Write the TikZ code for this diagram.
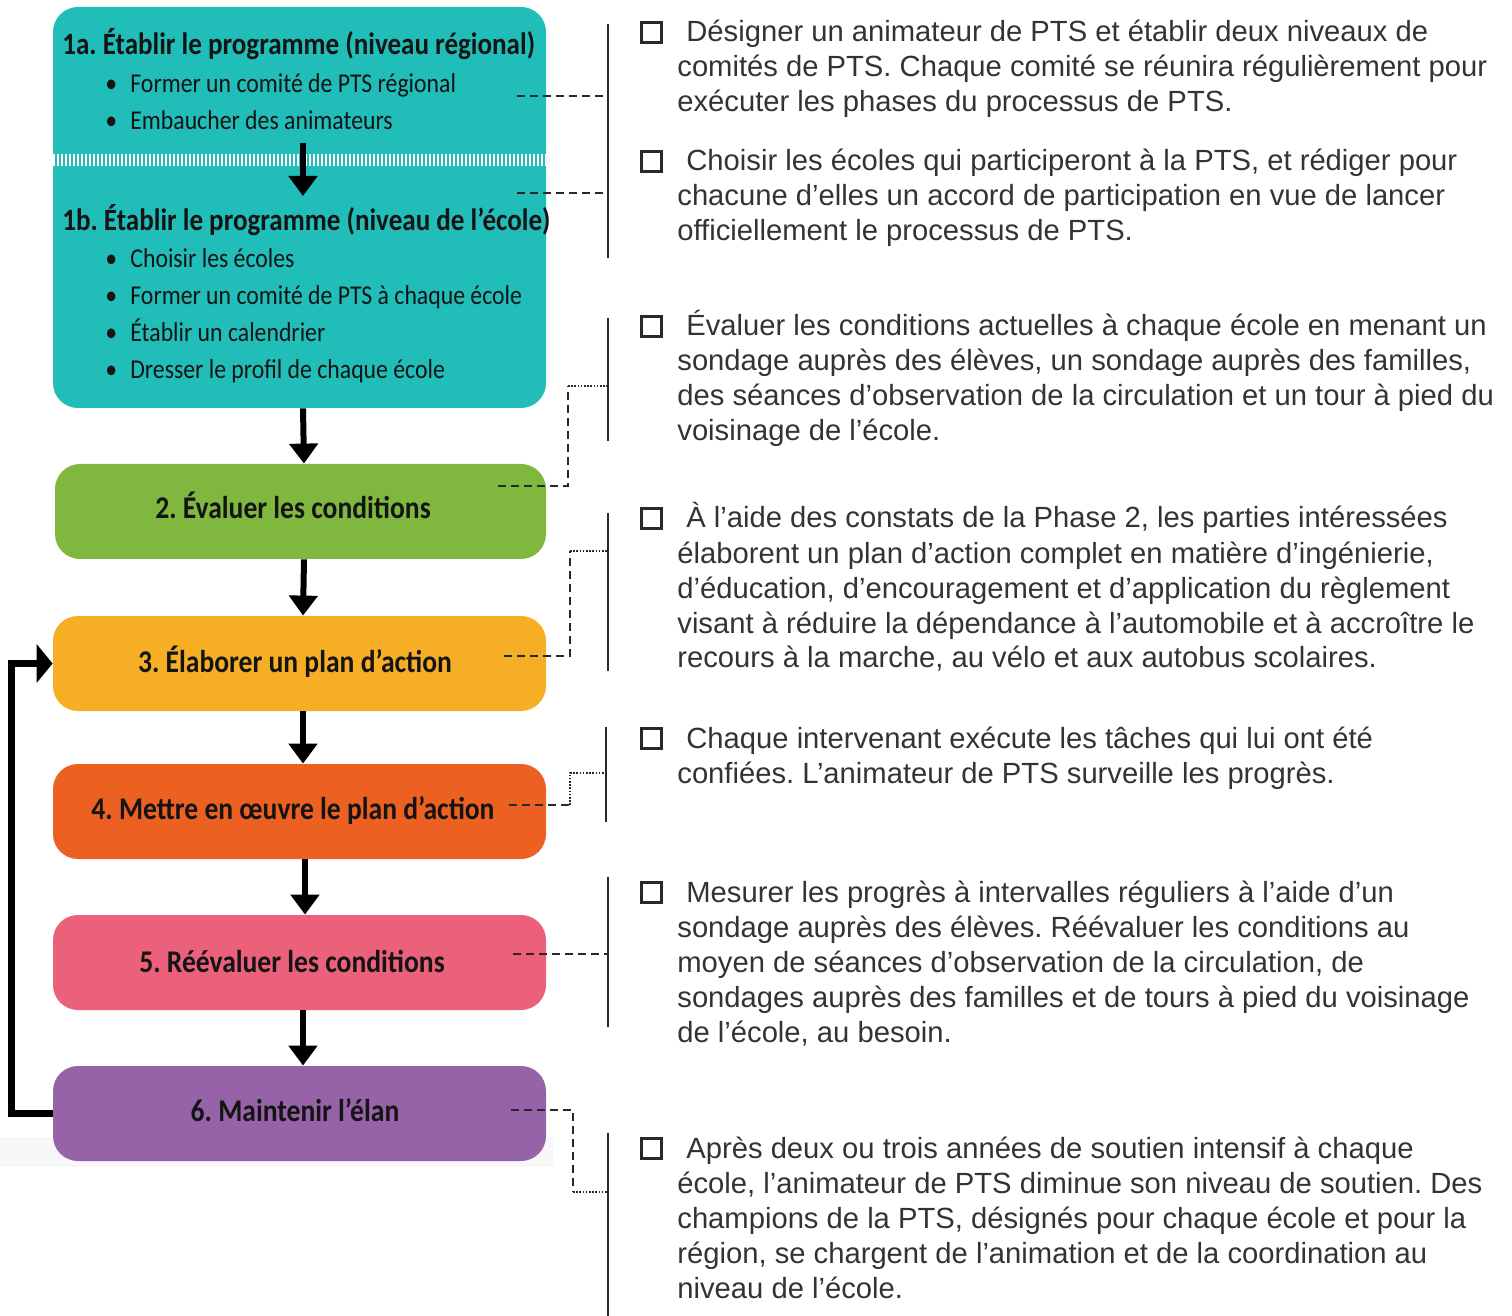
\documentclass[tikz,border=0pt]{standalone}
\usepackage{fontspec}
\setmainfont{Liberation Sans}
\newfontfamily\boxf[FakeStretch=0.873]{Carlito}
\usetikzlibrary{arrows.meta}
\definecolor{teal1}{RGB}{32,189,185}
\definecolor{green1}{RGB}{128,184,63}
\definecolor{yell1}{RGB}{246,175,37}
\definecolor{oran1}{RGB}{236,96,34}
\definecolor{pink1}{RGB}{235,96,122}
\definecolor{purp1}{RGB}{150,99,168}
\definecolor{txt}{RGB}{51,51,51}
\definecolor{lin}{RGB}{40,40,40}
\definecolor{boxtxt}{RGB}{20,20,20}
\frenchspacing
\begin{document}
\begin{tikzpicture}[x=0.5pt,y=-0.5pt,
  stage/.style={draw=none, rounded corners=12.5pt, minimum width=246.5pt, minimum height=47.5pt, inner sep=0pt},
  rt/.style={anchor=base west, inner sep=0pt, font=\fontsize{14.6}{17.5}\selectfont, text=txt},
  bt/.style={anchor=base west, inner sep=0pt, text=boxtxt, font=\boxf\bfseries\fontsize{15.5}{18}\selectfont},
  st/.style={anchor=base, inner sep=0pt, text=boxtxt, font=\boxf\bfseries\fontsize{15.8}{18}\selectfont},
  bl/.style={anchor=base west, inner sep=0pt, text=boxtxt, font=\boxf\fontsize{13.6}{18}\selectfont},
  dsh/.style={draw=lin, line width=1.2pt, dash pattern=on 4pt off 2.5pt},
  dtt/.style={draw=lin, line width=1.2pt, dash pattern=on 0.8pt off 0.8pt},
  vln/.style={draw=lin, line width=1pt},
  cbox/.style={draw=lin, line width=1.2pt, minimum size=10pt, inner sep=0pt},
  darr/.style={line width=3pt, -{Triangle[width=14pt,length=10pt]}},
  farr/.style={line width=3.25pt, -{Triangle[width=19pt,length=8pt]}}
]
\useasboundingbox (0,0) rectangle (1512,1316);
\fill[gray!6] (0,1137) rectangle (553,1167);

% stages
\node[stage, fill=teal1, minimum height=200.5pt] (b1) at (299.5,207.5) {};
\node[stage, fill=green1, minimum width=245.5pt] (b2) at (300.5,511.5) {};
\node[stage, fill=yell1] (b3) at (299.5,663.5) {};
\node[stage, fill=oran1] (b4) at (299.5,811.5) {};
\node[stage, fill=pink1] (b5) at (299.5,962.5) {};
\node[stage, fill=purp1] (b6) at (299.5,1113.5) {};

% separator in box 1
\coordinate (sepL) at (53,160);
\coordinate (sepR) at (546,160);
\draw[white, line width=6pt, dash pattern=on 0.9pt off 1.1pt] (sepL) -- (sepR);

% box 1 texts
\node[bt] (t1a) at (62,55) {1a. Établir le programme (niveau régional)};
\node[bl] (t1a1) at (105,93) {\makebox[12.5pt][l]{•}Former un comité de PTS régional};
\node[bl] (t1a2) at (105,130) {\makebox[12.5pt][l]{•}Embaucher des animateurs};
\node[bt] (t1b) at (62,231) {1b. Établir le programme (niveau de l’école)};
\node[bl] (t1b1) at (105,268) {\makebox[12.5pt][l]{•}Choisir les écoles};
\node[bl] (t1b2) at (105,305) {\makebox[12.5pt][l]{•}Former un comité de PTS à chaque école};
\node[bl] (t1b3) at (105,342) {\makebox[12.5pt][l]{•}Établir un calendrier};
\node[bl] (t1b4) at (105,379) {\makebox[12.5pt][l]{•}Dresser le profil de chaque école};

% stage titles
\node[st] (t2) at (293,518) {2. Évaluer les conditions};
\node[st] (t3) at (295,672) {3. Élaborer un plan d’action};
\node[st] (t4) at (293,819) {4. Mettre en œuvre le plan d’action};
\node[st] (t5) at (292,972) {5. Réévaluer les conditions};
\node[st] (t6) at (295,1121) {6. Maintenir l’élan};

% arrows
\coordinate (a1s) at (303,143);
\coordinate (a1e) at (303,196);
\draw[darr] (a1s) -- (a1e);
\draw[darr] ([xshift=1.75pt]b1.south) -- ([xshift=1.75pt]b2.north);
\draw[darr] ([xshift=1.75pt]b2.south) -- ([xshift=1.75pt]b3.north);
\draw[darr] ([xshift=1.75pt]b3.south) -- ([xshift=1.75pt]b4.north);
\draw[darr] ([xshift=2.75pt]b4.south) -- ([xshift=2.75pt]b5.north);
\draw[darr] ([xshift=1.75pt]b5.south) -- ([xshift=1.75pt]b6.north);

% feedback loop
\coordinate (fb) at (11.5,0);
\draw[farr] (b6.west) -- (b6.west -| fb) |- (b3.west);

% vertical brackets
\coordinate (LAt) at (608,24);   \coordinate (LAb) at (608,258);
\coordinate (LBt) at (608,318);  \coordinate (LBb) at (608,441);
\coordinate (LCt) at (608,513);  \coordinate (LCb) at (608,671);
\coordinate (LDt) at (606,727);  \coordinate (LDb) at (606,822);
\coordinate (LEt) at (608,877);  \coordinate (LEb) at (608,1027);
\coordinate (LFt) at (608,1133); \coordinate (LFb) at (608,1316);
\draw[vln] (LAt) -- (LAb);
\draw[vln] (LBt) -- (LBb);
\draw[vln] (LCt) -- (LCb);
\draw[vln] (LDt) -- (LDb);
\draw[vln] (LEt) -- (LEb);
\draw[vln] (LFt) -- (LFb);

% connectors
\coordinate (c1) at (517,96);
\coordinate (c2) at (517,193);
\draw[dsh] (c1) -- (c1 -| LAt);
\draw[dsh] (c2) -- (c2 -| LAt);

\coordinate (c3) at (498,486); \coordinate (k3) at (568,386);
\draw[dsh] (c3) -- (c3 -| k3) -- (k3);
\draw[dtt] (k3) -- (k3 -| LBt);

\coordinate (c4) at (504,656); \coordinate (k4) at (570,551);
\draw[dsh] (c4) -- (c4 -| k4) -- (k4);
\draw[dtt] (k4) -- (k4 -| LCt);

\coordinate (c5) at (509,805); \coordinate (k5) at (570,773);
\draw[dsh] (c5) -- (c5 -| k5);
\draw[dtt] (c5 -| k5) -- (k5) -- (k5 -| LDt);

\coordinate (c6) at (513,954);
\draw[dsh] (c6) -- (c6 -| LEt);

\coordinate (c7) at (511,1110); \coordinate (k7) at (573,1192);
\draw[dsh] (c7) -- (c7 -| k7) -- (k7);
\draw[dtt] (k7) -- (k7 -| LFt);

% check boxes
\node[cbox] (q1) at (651.5,32.5) {};
\node[cbox] (q2) at (651.5,161.5) {};
\node[cbox] (q3) at (651.5,326.5) {};
\node[cbox] (q4) at (651.5,518.5) {};
\node[cbox] (q5) at (651.5,738.5) {};
\node[cbox] (q6) at (651.5,892.5) {};
\node[cbox] (q7) at (651.5,1148.5) {};

% right texts
\node[rt] (r11) at (686,42) {Désigner un animateur de PTS et établir deux niveaux de};
\node[rt] (r12) at (677,77) {comités de PTS. Chaque comité se réunira régulièrement pour};
\node[rt] (r13) at (677,112) {exécuter les phases du processus de PTS.};

\node[rt] (r21) at (686,171) {Choisir les écoles qui participeront à la PTS, et rédiger pour};
\node[rt] (r22) at (677,206) {chacune d’elles un accord de participation en vue de lancer};
\node[rt] (r23) at (677,241) {officiellement le processus de PTS.};

\node[rt] (r31) at (686,336) {Évaluer les conditions actuelles à chaque école en menant un};
\node[rt] (r32) at (677,371) {sondage auprès des élèves, un sondage auprès des familles,};
\node[rt] (r33) at (677,406) {des séances d’observation de la circulation et un tour à pied du};
\node[rt] (r34) at (677,441) {voisinage de l’école.};

\node[rt] (r41) at (686,528) {À l’aide des constats de la Phase 2, les parties intéressées};
\node[rt] (r42) at (677,563) {élaborent un plan d’action complet en matière d’ingénierie,};
\node[rt] (r43) at (677,598) {d’éducation, d’encouragement et d’application du règlement};
\node[rt] (r44) at (677,633) {visant à réduire la dépendance à l’automobile et à accroître le};
\node[rt] (r45) at (677,668) {recours à la marche, au vélo et aux autobus scolaires.};

\node[rt] (r51) at (686,748) {Chaque intervenant exécute les tâches qui lui ont été};
\node[rt] (r52) at (677,783) {confiées. L’animateur de PTS surveille les progrès.};

\node[rt] (r61) at (686,902) {Mesurer les progrès à intervalles réguliers à l’aide d’un};
\node[rt] (r62) at (677,937) {sondage auprès des élèves. Réévaluer les conditions au};
\node[rt] (r63) at (677,972) {moyen de séances d’observation de la circulation, de};
\node[rt] (r64) at (677,1007) {sondages auprès des familles et de tours à pied du voisinage};
\node[rt] (r65) at (677,1042) {de l’école, au besoin.};

\node[rt] (r71) at (686,1158) {Après deux ou trois années de soutien intensif à chaque};
\node[rt] (r72) at (677,1193) {école, l’animateur de PTS diminue son niveau de soutien. Des};
\node[rt] (r73) at (677,1228) {champions de la PTS, désignés pour chaque école et pour la};
\node[rt] (r74) at (677,1263) {région, se chargent de l’animation et de la coordination au};
\node[rt] (r75) at (677,1298) {niveau de l’école.};
\end{tikzpicture}
\end{document}
